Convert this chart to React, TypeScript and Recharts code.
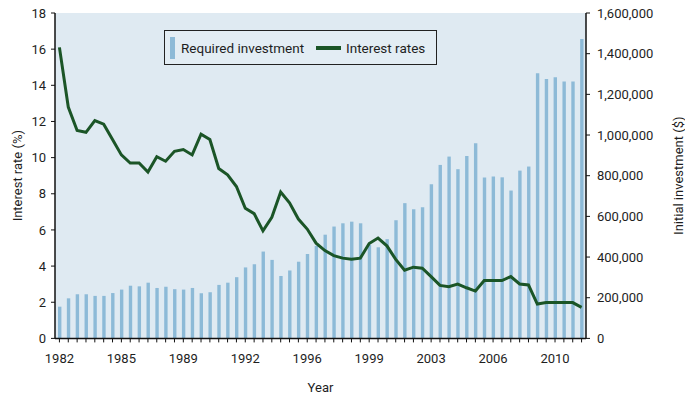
import React from 'react';
import { ComposedChart, Bar, Line, XAxis, YAxis, CartesianGrid, Legend } from 'recharts';

if (typeof document !== 'undefined') {
  document.body.style.margin = '0';
}

// Half-year periods, 1982 H1 .. 2011 H2
const periods = [
  '1982 H1', '1982 H2', '1983 H1', '1983 H2', '1984 H1', '1984 H2', '1985 H1', '1985 H2', '1986 H1', '1986 H2',
  '1987 H1', '1987 H2', '1988 H1', '1988 H2', '1989 H1', '1989 H2', '1990 H1', '1990 H2', '1991 H1', '1991 H2',
  '1992 H1', '1992 H2', '1993 H1', '1993 H2', '1994 H1', '1994 H2', '1995 H1', '1995 H2', '1996 H1', '1996 H2',
  '1997 H1', '1997 H2', '1998 H1', '1998 H2', '1999 H1', '1999 H2', '2000 H1', '2000 H2', '2001 H1', '2001 H2',
  '2002 H1', '2002 H2', '2003 H1', '2003 H2', '2004 H1', '2004 H2', '2005 H1', '2005 H2', '2006 H1', '2006 H2',
  '2007 H1', '2007 H2', '2008 H1', '2008 H2', '2009 H1', '2009 H2', '2010 H1', '2010 H2', '2011 H1', '2011 H2',
];

// Required investment ($)
const investment = [
  156000, 197000, 217000, 217000, 209000, 209000, 223000, 240000, 259000, 256000,
  274000, 248000, 254000, 242000, 240000, 248000, 222000, 227000, 263000, 274000,
  301000, 349000, 364000, 427000, 386000, 307000, 334000, 377000, 415000, 455000,
  510000, 550000, 566000, 574000, 566000, 460000, 448000, 488000, 581000, 665000,
  635000, 645000, 758000, 853000, 894000, 832000, 897000, 960000, 791000, 796000,
  792000, 727000, 825000, 845000, 1304000, 1275000, 1284000, 1263000, 1263000, 1472000,
];

// Interest rates (%)
const rates = [
  16.1, 12.8, 11.5, 11.4, 12.05, 11.85, 11.0, 10.15, 9.7, 9.7,
  9.2, 10.05, 9.8, 10.35, 10.45, 10.15, 11.3, 11.0, 9.4, 9.05,
  8.4, 7.2, 6.9, 5.95, 6.7, 8.1, 7.5, 6.6, 6.05, 5.27,
  4.86, 4.58, 4.44, 4.38, 4.44, 5.25, 5.55, 5.12, 4.37, 3.77,
  3.94, 3.88, 3.42, 2.93, 2.86, 3.0, 2.8, 2.62, 3.2, 3.2,
  3.2, 3.42, 3.01, 2.96, 1.9, 1.98, 1.98, 1.98, 1.98, 1.72,
];

const xTickLabels = ['1982', '1985', '1989', '1992', '1996', '1999', '2003', '2006', '2010'];
const rateTicks = [0, 2, 4, 6, 8, 10, 12, 14, 16, 18];
const investTicks = [0, 200000, 400000, 600000, 800000, 1000000, 1200000, 1400000, 1600000];

const data = periods.map((p, i) => ({ period: p, investment: investment[i], rate: rates[i] }));

const FONT = 'Roboto, "Liberation Sans", sans-serif';
const BAR_COLOR = '#8dbad7';
const LINE_COLOR = '#1b5527';
const BG = '#dfeaf2';
const TEXT = '#1e1e1e';

const XTick = (props: any) => {
  const { x, y, index } = props;
  if (index % 7 !== 0) return <g />;
  const label = xTickLabels[index / 7];
  return (
    <text x={x} y={y} dy={19} textAnchor="middle" fontFamily={FONT} fontSize={13} fill={TEXT}>
      {label}
    </text>
  );
};

const LegendBox = () => (
  <div
    style={{
      width: 273,
      height: 35,
      boxSizing: 'border-box',
      border: '1.5px solid #222',
      background: '#e3edf4',
      display: 'flex',
      alignItems: 'center',
      fontFamily: FONT,
      fontSize: 13.5,
      color: TEXT,
      paddingLeft: 5,
      whiteSpace: 'nowrap',
    }}
  >
    <span style={{ display: 'inline-block', width: 5, height: 22, background: BAR_COLOR, marginRight: 6 }} />
    <span>Required investment</span>
    <span style={{ display: 'inline-block', width: 25, height: 4, background: LINE_COLOR, marginLeft: 12, marginRight: 5 }} />
    <span>Interest rates</span>
  </div>
);

export default function App() {
  return (
    <ComposedChart width={685} height={400} data={data} margin={{ top: 13, right: 0, bottom: 0, left: 0 }}>
      <CartesianGrid fill={BG} horizontal={false} vertical={false} strokeOpacity={0} />
      <XAxis
        dataKey="period"
        interval={0}
        height={61.6}
        tickSize={4}
        tick={<XTick />}
        axisLine={{ stroke: '#111', strokeWidth: 1.5 }}
        tickLine={{ stroke: '#111', strokeWidth: 1 }}
        label={{ value: 'Year', position: 'insideBottom', offset: 8, fontFamily: FONT, fontSize: 13, fill: TEXT }}
      />
      <YAxis
        yAxisId="left"
        domain={[0, 18]}
        ticks={rateTicks}
        width={55}
        tickSize={4}
        tickMargin={5}
        interval={0}
        tick={{ fontFamily: FONT, fontSize: 13, fill: TEXT }}
        axisLine={{ stroke: '#111', strokeWidth: 1.5 }}
        tickLine={{ stroke: '#111', strokeWidth: 1 }}
        label={{
          value: 'Interest rate (%)',
          angle: -90,
          position: 'insideLeft',
          offset: 17,
          style: { textAnchor: 'middle', fontFamily: FONT, fontSize: 13, fill: TEXT },
        }}
      />
      <YAxis
        yAxisId="right"
        orientation="right"
        domain={[0, 1600000]}
        ticks={investTicks}
        width={99}
        tickSize={4}
        tickMargin={7}
        interval={0}
        tickFormatter={(v: number) => v.toLocaleString('en-US')}
        tick={{ fontFamily: FONT, fontSize: 13, fill: TEXT }}
        axisLine={{ stroke: '#111', strokeWidth: 1.5 }}
        tickLine={{ stroke: '#111', strokeWidth: 1 }}
        label={{
          value: 'Initial investment ($)',
          angle: -90,
          position: 'insideRight',
          offset: 7,
          style: { textAnchor: 'middle', fontFamily: FONT, fontSize: 13, fill: TEXT },
        }}
      />
      <Legend
        layout="horizontal"
        verticalAlign="middle"
        align="center"
        wrapperStyle={{ left: 164, top: 30, width: 273 }}
        content={<LegendBox />}
      />
      <Bar yAxisId="right" dataKey="investment" name="Required investment" fill={BAR_COLOR} barSize={3.4} isAnimationActive={false} />
      <Line
        yAxisId="left"
        dataKey="rate"
        name="Interest rates"
        type="linear"
        stroke={LINE_COLOR}
        strokeWidth={3}
        dot={false}
        activeDot={false}
        isAnimationActive={false}
      />
    </ComposedChart>
  );
}
